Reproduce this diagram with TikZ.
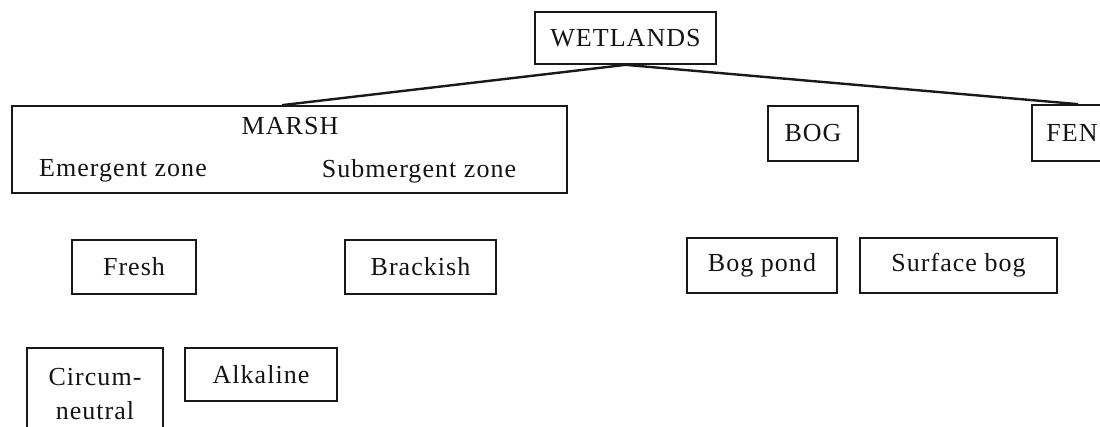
\documentclass[tikz,border=0pt]{standalone}
\usepackage{fontspec}
\setmainfont[LetterSpace=4]{Liberation Serif}
\usetikzlibrary{calc}
\begin{document}
\begin{tikzpicture}[x=1pt,y=-1pt,
  box/.style={draw=black!90, line width=1.7pt, inner sep=0pt, font=\fontsize{26}{31}\selectfont, text=black!92},
  lbl/.style={inner sep=0pt, font=\fontsize{26}{31}\selectfont, text=black!92},
  link/.style={draw=black!90, line width=2.4pt}]
\useasboundingbox (0,0) rectangle (1100,427);
\node[box, minimum width=181pt, minimum height=52pt] (wet) at (625.5,38) {WETLANDS};
\node[box, minimum width=555pt, minimum height=87pt] (marsh) at (289.5,149.5) {};
\node[lbl] (marshT) at (290,126) {MARSH};
\node[lbl] (emerg) at (123,171) {Emergent zone};
\node[lbl] (subm) at (419,171) {Submergent zone};
\node[box, minimum width=90pt, minimum height=55pt] (bog) at (813,133.5) {BOG};
\node[box, minimum width=80pt, minimum height=56pt] (fen) at (1072,133) {FEN};
\node[box, minimum width=124pt, minimum height=54pt] (fresh) at (134,267) {Fresh};
\node[box, minimum width=151pt, minimum height=54pt] (brack) at (420.5,267) {Brackish};
\node[box, minimum width=150pt, minimum height=55pt] (bpond) at (762,265.5) {Bog pond};
\node[box, minimum width=197pt, minimum height=55pt] (sbog) at (958.5,265.5) {Surface bog};
\node[box, minimum width=136pt, minimum height=92pt, align=center, font=\fontsize{26}{34}\selectfont] (circ) at (95,394) {Circum-\\neutral};
\node[box, minimum width=152pt, minimum height=53pt] (alk) at (261,374.5) {Alkaline};
\coordinate (mtop) at ([xshift=-7.5pt]marsh.north);
\coordinate (ftop) at ([xshift=6pt]fen.north);
\draw[link] (mtop) -- (wet.south) -- (ftop);
\end{tikzpicture}
\end{document}
